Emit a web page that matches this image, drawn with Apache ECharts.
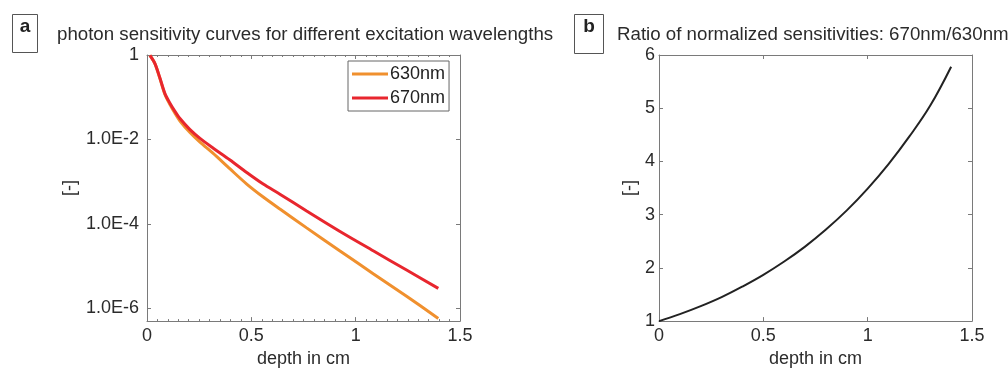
<!DOCTYPE html>
<html>
<head>
<meta charset="utf-8">
<script src="https://cdn.jsdelivr.net/npm/echarts@6/dist/echarts.min.js"></script>
<style>
html,body{margin:0;padding:0;background:#fff;}
#c{width:1008px;height:373px;}
</style>
</head>
<body>
<div id="c"></div>
<script>
// ---- data ----
const depth   = [0.014, 0.038, 0.062, 0.086, 0.110, 0.134, 0.158, 0.206, 0.254, 0.316, 0.398, 0.478, 0.557, 0.637, 0.765, 0.925, 1.084, 1.244, 1.396];
const sens630 = [0.975, 0.624, 0.276, 0.116, 0.0669, 0.0417, 0.0274, 0.0146, 0.00863, 0.00472, 0.00200, 8.79e-4, 4.33e-4, 2.25e-4, 8.06e-5, 2.29e-5, 6.65e-6, 1.94e-6, 5.79e-7];
const sens670 = [0.975, 0.624, 0.284, 0.122, 0.0724, 0.0463, 0.0313, 0.0171, 0.0106, 0.00630, 0.00327, 0.00165, 8.79e-4, 5.07e-4, 2.02e-4, 6.61e-5, 2.31e-5, 8.09e-6, 2.98e-6];
const depthRatio = [0, 0.1, 0.2, 0.3, 0.4, 0.5, 0.6, 0.7, 0.8, 0.9, 1.0, 1.1, 1.2, 1.3, 1.4];
const ratio      = [1.0, 1.13, 1.28, 1.45, 1.65, 1.87, 2.12, 2.40, 2.72, 3.08, 3.49, 3.95, 4.47, 5.05, 5.78];
const seriesNames = ['630nm', '670nm'];
const titleA = 'photon sensitivity curves for different excitation wavelengths';
const titleB = 'Ratio of normalized sensitivities: 670nm/630nm';
const xLabel = 'depth in cm';
const yLabel = '[-]';

const pair = (xs, ys) => xs.map((x, i) => [x, ys[i]]);
const FONT = '"Liberation Sans", Arial, Helvetica, sans-serif';
const TXT = '#2b2b2b';
const AX = '#7a7a7a';
const FS = 18;

function xAxes(gi, minor) {
  const common = {
    type: 'value', gridIndex: gi, min: 0, max: 1.5, interval: 0.5,
    axisLine: { show: true, onZero: false, lineStyle: { color: AX, width: 1 } },
    axisTick: { show: true, inside: true, length: 4, lineStyle: { color: AX } },
    minorTick: { show: minor, splitNumber: 10, length: 2, lineStyle: { color: AX } },
    splitLine: { show: false }
  };
  return [
    Object.assign({}, common, {
      position: 'bottom',
      name: xLabel, nameLocation: 'middle', nameGap: 27,
      nameTextStyle: { fontFamily: FONT, fontSize: FS, color: TXT },
      axisLabel: { fontFamily: FONT, fontSize: FS, color: TXT, margin: 6,
        formatter: v => (v === 0 ? '0' : String(+v.toFixed(1))) }
    }),
    Object.assign({}, common, { position: 'top', axisLabel: { show: false } })
  ];
}

const chart = echarts.init(document.getElementById('c'), null, { renderer: 'canvas' });

const logLabel = v => {
  const l = Math.log10(v);
  const e = Math.round(l);
  if (Math.abs(l - e) > 0.01) return '';
  if (e === 0) return '1';
  return '1.0E' + e;
};

const option = {
  animation: false,
  backgroundColor: '#fff',
  textStyle: { fontFamily: FONT },
  grid: [
    { left: 147, top: 55, width: 313, height: 276, show: false },
    { left: 659, top: 55, width: 313, height: 276, show: false }
  ],
  xAxis: [].concat(xAxes(0, true), xAxes(1, false)),
  yAxis: [
    {
      type: 'log', logBase: 100, gridIndex: 0, min: 5e-7, max: 1, position: 'left',
      axisLine: { show: true, onZero: false, lineStyle: { color: AX } },
      axisTick: { show: true, inside: true, length: 4, lineStyle: { color: AX } },
      splitLine: { show: false },
      showMinLabel: false,
      axisLabel: { fontFamily: FONT, fontSize: FS, color: TXT, margin: 8, formatter: logLabel },
      name: yLabel, nameLocation: 'middle', nameGap: 68, nameRotate: 90,
      nameTextStyle: { fontFamily: FONT, fontSize: FS, color: TXT }
    },
    {
      type: 'log', logBase: 100, gridIndex: 0, min: 5e-7, max: 1, position: 'right',
      axisLine: { show: true, onZero: false, lineStyle: { color: AX } },
      axisTick: { show: true, inside: true, length: 4, lineStyle: { color: AX } },
      splitLine: { show: false }, axisLabel: { show: false }
    },
    {
      type: 'value', gridIndex: 1, min: 1, max: 6, interval: 1, position: 'left',
      axisLine: { show: true, onZero: false, lineStyle: { color: AX } },
      axisTick: { show: true, inside: true, length: 4, lineStyle: { color: AX } },
      splitLine: { show: false },
      axisLabel: { fontFamily: FONT, fontSize: FS, color: TXT, margin: 4 },
      name: yLabel, nameLocation: 'middle', nameGap: 20, nameRotate: 90,
      nameTextStyle: { fontFamily: FONT, fontSize: FS, color: TXT }
    },
    {
      type: 'value', gridIndex: 1, min: 1, max: 6, interval: 1, position: 'right',
      axisLine: { show: true, onZero: false, lineStyle: { color: AX } },
      axisTick: { show: true, inside: true, length: 4, lineStyle: { color: AX } },
      splitLine: { show: false }, axisLabel: { show: false }
    }
  ],
  legend: {
    data: seriesNames,
    orient: 'vertical', left: 348, top: 61,
    backgroundColor: '#fff',
    borderColor: '#666', borderWidth: 1, borderRadius: 0,
    padding: [4, 4, 4, 4], itemGap: 6,
    itemWidth: 36, itemHeight: 3, icon: 'rect',
    textStyle: { fontFamily: FONT, fontSize: FS, color: '#222', padding: [0, 0, 0, -3] }
  },
  series: [
    {
      name: seriesNames[0], type: 'line', xAxisIndex: 0, yAxisIndex: 0,
      data: pair(depth, sens630), smooth: 0.3, showSymbol: false, symbol: 'none',
      lineStyle: { color: '#F0902E', width: 3 }, itemStyle: { color: '#F0902E' }, z: 3
    },
    {
      name: seriesNames[1], type: 'line', xAxisIndex: 0, yAxisIndex: 0,
      data: pair(depth, sens670), smooth: 0.3, showSymbol: false, symbol: 'none',
      lineStyle: { color: '#E8262E', width: 3 }, itemStyle: { color: '#E8262E' }, z: 4
    },
    {
      name: 'ratio', type: 'line', xAxisIndex: 2, yAxisIndex: 2,
      data: pair(depthRatio, ratio), smooth: 0.4, showSymbol: false, symbol: 'none',
      lineStyle: { color: '#222', width: 2 }
    }
  ],
  graphic: [
    { type: 'rect', shape: { x: 12.5, y: 14.5, width: 25, height: 38 },
      style: { fill: 'none', stroke: '#555', lineWidth: 1 } },
    { type: 'text', x: 25, y: 27, style: { text: 'a', font: 'bold 19px ' + FONT, fill: '#222', textAlign: 'center', textVerticalAlign: 'middle' } },
    { type: 'text', x: 57, y: 35, style: { text: titleA, font: '18.7px ' + FONT, fill: TXT, textVerticalAlign: 'middle' } },
    { type: 'rect', shape: { x: 574.5, y: 14.5, width: 29, height: 39 },
      style: { fill: 'none', stroke: '#555', lineWidth: 1 } },
    { type: 'text', x: 589, y: 27, style: { text: 'b', font: 'bold 19px ' + FONT, fill: '#222', textAlign: 'center', textVerticalAlign: 'middle' } },
    { type: 'text', x: 617, y: 35, style: { text: titleB, font: '18.7px ' + FONT, fill: TXT, textVerticalAlign: 'middle' } }
  ]
};
chart.setOption(option);
</script>
</body>
</html>
